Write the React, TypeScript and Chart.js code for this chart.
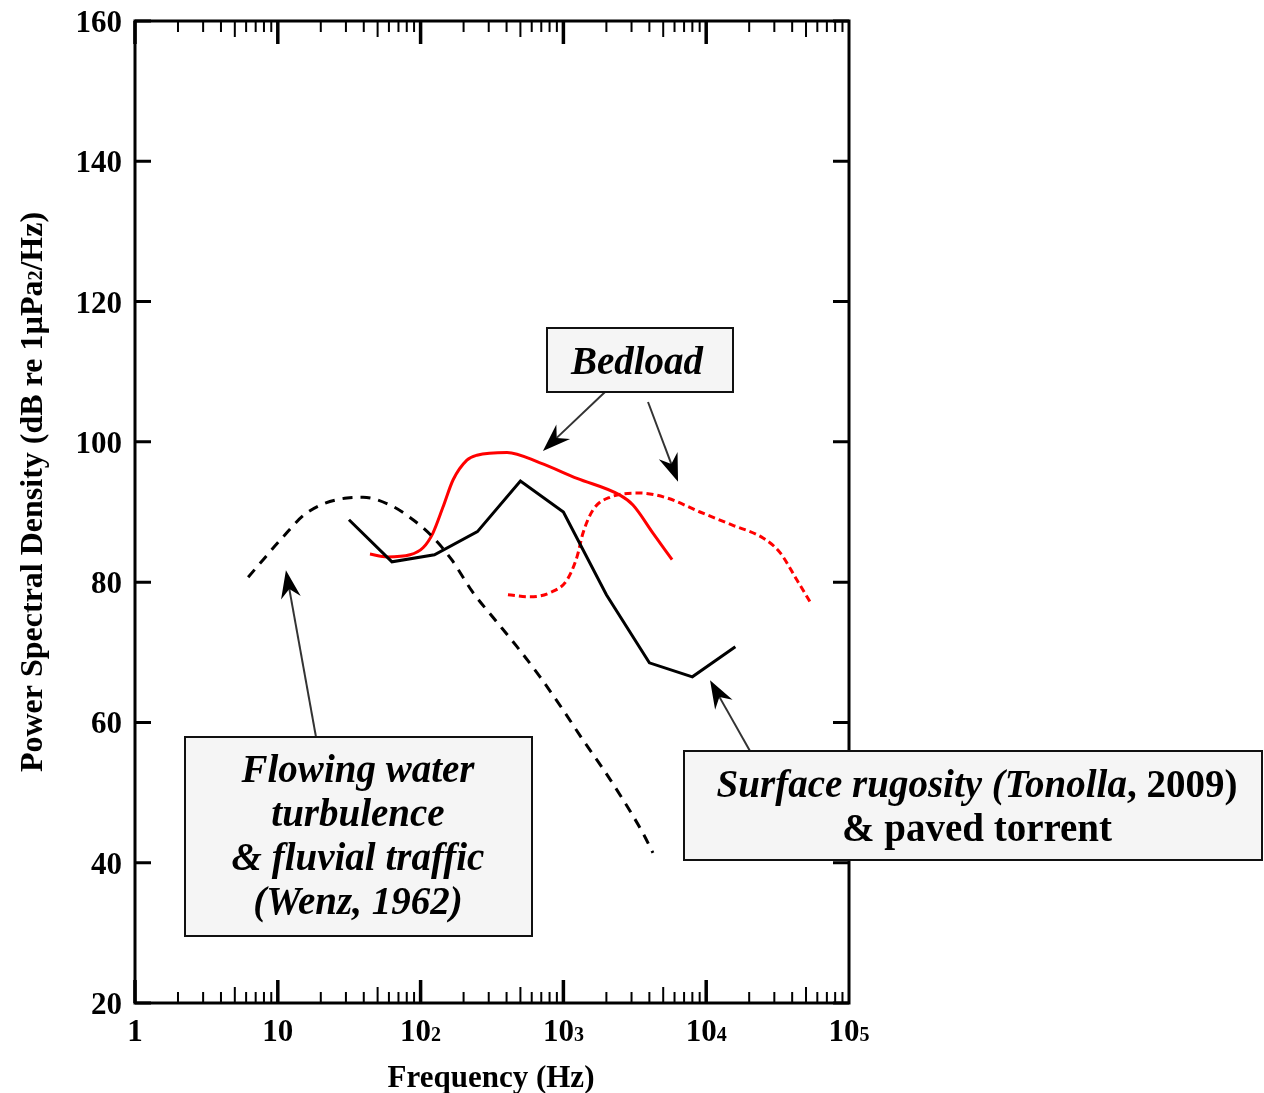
import React, { useEffect, useRef } from "react";
import { Chart, registerables } from "chart.js";

Chart.register(...registerables);

// ---------- data ----------
const wenzFreq = [6.2, 7.9, 10.4, 16, 30.5, 39.5, 61, 88.5, 122, 165, 233, 321, 473, 686, 993, 1371, 1893, 2614, 3609, 4237];
const wenzDb = [80.7, 83.2, 86.0, 89.9, 92.0, 92.1, 91.0, 88.9, 86.4, 83.2, 78.5, 75.0, 70.8, 66.5, 61.8, 57.5, 53.4, 49.0, 44.2, 41.4];

const bedloadAFreq = [44.2, 58.2, 84.3, 104, 122, 143.5, 169, 211, 248, 403, 686, 1245, 2490, 3070, 4237, 5768];
const bedloadADb = [84.0, 83.6, 83.9, 84.9, 87.0, 90.7, 94.6, 97.4, 98.1, 98.5, 97.0, 94.8, 92.4, 91.0, 87.0, 83.2];

const bedloadBFreq = [409, 584, 806, 1059, 1245, 1372, 1612, 2120, 3437, 5310, 9050, 15400, 25000, 32900, 43200, 53300];
const bedloadBDb = [78.2, 77.9, 78.5, 80.3, 83.6, 87.0, 90.3, 92.1, 92.7, 92.0, 90.0, 88.1, 86.3, 84.2, 80.3, 77.2];

const surfaceFreq = [31.5, 63, 125, 250, 500, 1000, 2000, 4000, 8000, 16000];
const surfaceDb = [88.9, 82.9, 83.9, 87.2, 94.4, 90.0, 78.2, 68.5, 66.5, 70.8];

const xTickValues = [1, 10, 100, 1000, 10000, 100000];
const xTickBase = ["1", "10", "10", "10", "10", "10"];
const xTickExp = ["", "", "2", "3", "4", "5"];
const yTickValues = [20, 40, 60, 80, 100, 120, 140, 160];
const yTickLabels = ["20", "40", "60", "80", "100", "120", "140", "160"];

const xTitle = "Frequency (Hz)";
const yTitleParts = ["Power Spectral Density (dB re 1µPa", "2", "/Hz)"];

// arrow tips in data coordinates (freq, dB); tails in pixels at box edges
const arrowTipFreq = [719, 6350, 11.4, 10640];
const arrowTipDb = [98.7, 94.3, 81.7, 66.0];
const arrowTailPx = [
  [605, 392],
  [648, 402],
  [316, 737],
  [750, 751],
];

const SERIF = '"Liberation Serif", "Times New Roman", serif';

type Seg = { t: string; it: boolean };
const boxes: { x0: number; y0: number; x1: number; y1: number; cx: number; lines: Seg[][]; base: number[] }[] = [
  { x0: 547, y0: 328, x1: 733, y1: 392, cx: 637, lines: [[{ t: "Bedload", it: true }]], base: [374] },
  {
    x0: 185, y0: 737, x1: 532, y1: 936, cx: 358,
    lines: [
      [{ t: "Flowing water", it: true }],
      [{ t: "turbulence", it: true }],
      [{ t: "& fluvial traffic", it: true }],
      [{ t: "(Wenz, 1962)", it: true }],
    ],
    base: [782, 826, 870, 914],
  },
  {
    x0: 684, y0: 751, x1: 1262, y1: 860, cx: 977,
    lines: [
      [{ t: "Surface rugosity (Tonolla", it: true }, { t: ", 2009)", it: false }],
      [{ t: "& paved torrent", it: false }],
    ],
    base: [797, 841],
  },
];

const toXY = (xs: number[], ys: number[]) => xs.map((x, i) => ({ x, y: ys[i] }));

const overlay = {
  id: "overlay",
  afterDraw(chart: any) {
    const ctx: CanvasRenderingContext2D = chart.ctx;
    const { left, right, top, bottom } = chart.chartArea;
    const xs = chart.scales.x;
    const ys = chart.scales.y;
    ctx.save();
    ctx.strokeStyle = "#000";
    ctx.lineCap = "butt";

    // minor / major x ticks (inward, top and bottom)
    for (let d = 0; d < 5; d++) {
      for (let m = 1; m <= 9; m++) {
        const v = m * Math.pow(10, d);
        const px = xs.getPixelForValue(v);
        const len = m === 1 ? 23 : m === 5 ? 16 : 11;
        ctx.lineWidth = m === 1 ? 3.5 : 2;
        ctx.beginPath();
        ctx.moveTo(px, bottom);
        ctx.lineTo(px, bottom - len);
        ctx.moveTo(px, top);
        ctx.lineTo(px, top + len);
        ctx.stroke();
      }
    }
    // y ticks (inward both sides)
    ctx.lineWidth = 3;
    yTickValues.forEach((v) => {
      const py = ys.getPixelForValue(v);
      ctx.beginPath();
      ctx.moveTo(left, py);
      ctx.lineTo(left + 16, py);
      ctx.moveTo(right, py);
      ctx.lineTo(right - 16, py);
      ctx.stroke();
    });
    // frame
    ctx.lineWidth = 3;
    ctx.strokeRect(left, top, right - left, bottom - top);

    ctx.fillStyle = "#000";
    // y tick labels
    ctx.font = `bold 31px ${SERIF}`;
    ctx.textAlign = "right";
    ctx.textBaseline = "alphabetic";
    yTickValues.forEach((v, i) => {
      const py = ys.getPixelForValue(v);
      ctx.fillText(yTickLabels[i], left - 13, py + 11);
    });

    // x tick labels
    ctx.textAlign = "left";
    const mainF = `bold 31px ${SERIF}`;
    const expF = `bold 20px ${SERIF}`;
    xTickValues.forEach((v, i) => {
      const px = xs.getPixelForValue(v);
      ctx.font = mainF;
      const w1 = ctx.measureText(xTickBase[i]).width;
      ctx.font = expF;
      const w2 = xTickExp[i] ? ctx.measureText(xTickExp[i]).width : 0;
      const sx = px - (w1 + w2) / 2;
      ctx.font = mainF;
      ctx.fillText(xTickBase[i], sx, 1041);
      if (xTickExp[i]) {
        ctx.font = expF;
        ctx.fillText(xTickExp[i], sx + w1, 1041);
      }
    });

    // x title
    ctx.font = `bold 31px ${SERIF}`;
    ctx.textAlign = "center";
    ctx.fillText(xTitle, (left + right) / 2 - 1, 1087);

    // y title rotated
    ctx.save();
    ctx.translate(42, 492);
    ctx.rotate(-Math.PI / 2);
    ctx.textAlign = "left";
    const fonts = [`bold 32px ${SERIF}`, `bold 20px ${SERIF}`, `bold 32px ${SERIF}`];
    let total = 0;
    const widths = yTitleParts.map((p, i) => {
      ctx.font = fonts[i];
      const w = ctx.measureText(p).width;
      total += w;
      return w;
    });
    let cx = -total / 2;
    yTitleParts.forEach((p, i) => {
      ctx.font = fonts[i];
      ctx.fillText(p, cx, 0);
      cx += widths[i];
    });
    ctx.restore();

    // arrows
    arrowTipFreq.forEach((f, i) => {
      const tx = xs.getPixelForValue(f);
      const ty = ys.getPixelForValue(arrowTipDb[i]);
      const [ax, ay] = arrowTailPx[i];
      const dx = tx - ax;
      const dy = ty - ay;
      const l = Math.hypot(dx, dy);
      const ux = dx / l;
      const uy = dy / l;
      const nx = -uy;
      const ny = ux;
      const L = 28;
      const W = 10;
      const notch = 9;
      ctx.strokeStyle = "#333";
      ctx.lineWidth = 2;
      ctx.beginPath();
      ctx.moveTo(ax, ay);
      ctx.lineTo(tx - (L - notch) * ux, ty - (L - notch) * uy);
      ctx.stroke();
      ctx.fillStyle = "#000";
      ctx.beginPath();
      ctx.moveTo(tx, ty);
      ctx.lineTo(tx - L * ux + W * nx, ty - L * uy + W * ny);
      ctx.lineTo(tx - (L - notch) * ux, ty - (L - notch) * uy);
      ctx.lineTo(tx - L * ux - W * nx, ty - L * uy - W * ny);
      ctx.closePath();
      ctx.fill();
    });

    // annotation boxes
    boxes.forEach((b) => {
      ctx.fillStyle = "#f5f5f5";
      ctx.fillRect(b.x0, b.y0, b.x1 - b.x0, b.y1 - b.y0);
      ctx.strokeStyle = "#111";
      ctx.lineWidth = 2;
      ctx.strokeRect(b.x0, b.y0, b.x1 - b.x0, b.y1 - b.y0);
      ctx.fillStyle = "#000";
      ctx.textAlign = "left";
      b.lines.forEach((segs, li) => {
        let tw = 0;
        const ws = segs.map((s) => {
          ctx.font = `${s.it ? "italic " : ""}bold 39px ${SERIF}`;
          const w = ctx.measureText(s.t).width;
          tw += w;
          return w;
        });
        let x = b.cx - tw / 2;
        segs.forEach((s, si) => {
          ctx.font = `${s.it ? "italic " : ""}bold 39px ${SERIF}`;
          ctx.fillText(s.t, x, b.base[li]);
          x += ws[si];
        });
      });
    });

    ctx.restore();
  },
};

export default function App() {
  const ref = useRef<HTMLCanvasElement>(null);
  useEffect(() => {
    const chart = new Chart(ref.current as HTMLCanvasElement, {
      type: "line",
      data: {
        datasets: [
          {
            label: "Wenz 1962",
            data: toXY(wenzFreq, wenzDb),
            borderColor: "#000",
            borderWidth: 3,
            borderDash: [10, 8],
            pointRadius: 0,
            cubicInterpolationMode: "monotone",
          },
          {
            label: "Surface rugosity",
            data: toXY(surfaceFreq, surfaceDb),
            borderColor: "#000",
            borderWidth: 3,
            pointRadius: 0,
            tension: 0,
          },
          {
            label: "Bedload A",
            data: toXY(bedloadAFreq, bedloadADb),
            borderColor: "#ff0000",
            borderWidth: 3,
            pointRadius: 0,
            cubicInterpolationMode: "monotone",
          },
          {
            label: "Bedload B",
            data: toXY(bedloadBFreq, bedloadBDb),
            borderColor: "#ff0000",
            borderWidth: 3,
            borderDash: [7, 4],
            pointRadius: 0,
            cubicInterpolationMode: "monotone",
          },
        ],
      } as any,
      options: {
        animation: false,
        responsive: false,
        devicePixelRatio: 1,
        layout: { padding: { top: 21, right: 415, bottom: 0, left: 0 } },
        plugins: { legend: { display: false }, tooltip: { enabled: false } },
        scales: {
          x: {
            type: "logarithmic",
            min: 1,
            max: 100000,
            grid: { display: false },
            border: { display: false },
            ticks: { display: false },
            afterFit: (s: any) => {
              s.height = 90;
            },
          },
          y: {
            type: "linear",
            min: 20,
            max: 160,
            grid: { display: false },
            border: { display: false },
            ticks: { display: false, stepSize: 20 },
            afterFit: (s: any) => {
              s.width = 135;
            },
          },
        },
      } as any,
      plugins: [overlay],
    });
    return () => chart.destroy();
  }, []);
  return (
    <div style={{ position: "absolute", left: 0, top: 0, width: 1264, height: 1093, background: "#fff" }}>
      <canvas ref={ref} width={1264} height={1093} style={{ display: "block", width: 1264, height: 1093 }} />
    </div>
  );
}
